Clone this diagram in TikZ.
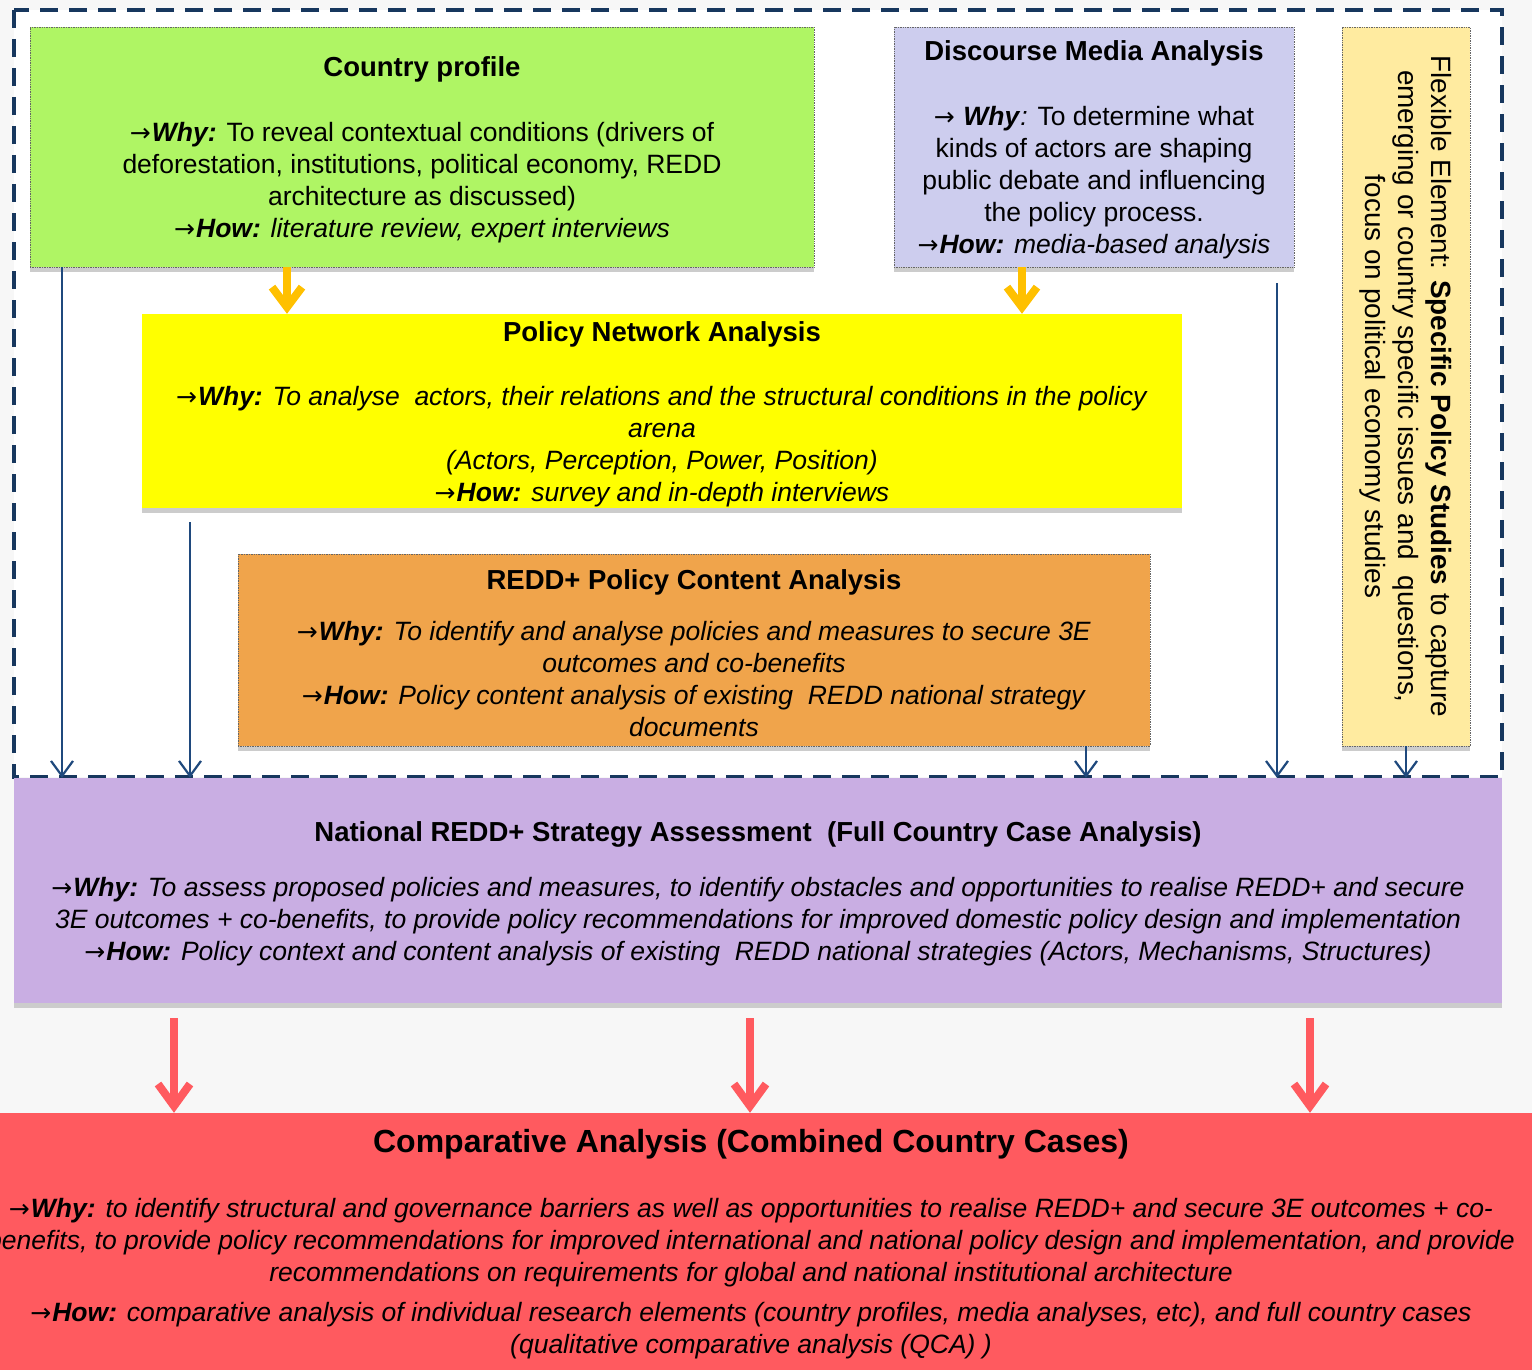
\documentclass[tikz,border=0pt]{standalone}
\usepackage{fontspec}
\setmainfont{Liberation Sans}
\newfontfamily\arrowfont{DejaVu Sans}
\usetikzlibrary{arrows.meta,positioning,shadows}

\definecolor{pagebg}{HTML}{F7F7F7}
\definecolor{framenavy}{HTML}{17375E}
\definecolor{legnavy}{HTML}{1F497D}
\definecolor{cpgreen}{HTML}{AFF564}
\definecolor{dmblue}{HTML}{CDCDEE}
\definecolor{flexcream}{HTML}{FFEBA0}
\definecolor{pnayellow}{HTML}{FFFF00}
\definecolor{pcorange}{HTML}{F0A44B}
\definecolor{nsalilac}{HTML}{C9AEE3}
\definecolor{carred}{HTML}{FF5A5F}
\definecolor{feedgold}{HTML}{FFC000}

\newcommand{\bi}[1]{\textbf{\textit{#1}}}
\newcommand{\ra}{\resizebox{21pt}{!}{\arrowfont\upshape\mdseries →}\kern1pt}
\newcommand{\ttl}[1]{{\fontsize{27.5}{32}\selectfont\rule{0pt}{25.5pt}\textbf{#1}}}

\tikzset{
  box/.style={align=center, inner sep=0pt, font=\fontsize{26.5}{32}\selectfont},
  outl/.style={draw=black!60, densely dotted, line width=0.7pt},
  shade/.style={general shadow={fill=black!20, shadow yshift=-5pt}},
  leg/.style={draw=legnavy, line width=2.2pt, -{Straight Barb[length=15pt,width=22pt]}},
  feed/.style={draw=feedgold, line width=8pt, -{Straight Barb[length=20pt,width=30pt]}},
  outflow/.style={draw=carred, line width=8pt, -{Straight Barb[length=22pt,width=32pt]}}
}

\begin{document}
\begin{tikzpicture}[x=1pt,y=-1pt]
\useasboundingbox (0,0) rectangle (1532,1370);
\fill[pagebg] (0,0) rectangle (1532,1370);
\fill[white] (14,10) rectangle (1502,777);
\draw[framenavy, line width=4pt, dash pattern=on 18pt off 11pt] (14,10) rectangle (1502,777);

% research elements
\node[box, outl, shade, fill=cpgreen, minimum width=784pt, minimum height=240pt] (cp) at (422,147) {%
  \ttl{Country profile}\\[33pt]
  \ra\bi{Why:} To reveal contextual conditions (drivers of\\
  deforestation, institutions, political economy, REDD\\
  architecture as discussed)\\
  \ra\bi{How:} \textit{literature review, expert interviews}};
\node[box, outl, shade, fill=dmblue, minimum width=400pt, minimum height=240pt] (dm) at (1094,147) {%
  \ttl{Discourse Media Analysis}\\[33pt]
  \ra\ \bi{Why}\textit{:} To determine what\\
  kinds of actors are shaping\\
  public debate and influencing\\
  the policy process.\\
  \ra\bi{How:} \textit{media-based analysis}};
\node[box, outl, shade, fill=flexcream, rotate=-90, minimum width=719pt, minimum height=128pt,
  font=\fontsize{27.9}{33}\selectfont] (flex) at (1406,386.5) {%
  Flexible Element: \textbf{Specific Policy Studies} to capture\\
  emerging or country specific issues and\ \ questions,\\
  focus on political economy studies};
\node[box, shade, fill=pnayellow, minimum width=1040pt, minimum height=194pt] (pna) at (662,411) {%
  \ttl{Policy Network Analysis}\\[32pt]
  \textit{\ra\textbf{Why:} To analyse\ \ actors, their relations and the structural conditions in the policy}\\
  \textit{arena}\\
  \textit{(Actors, Perception, Power, Position)}\\
  \textit{\ra\textbf{How:} survey and in-depth interviews}};
\node[box, outl, shade, fill=pcorange, minimum width=912pt, minimum height=192pt] (pca) at (694,650) {%
  \ttl{REDD+ Policy Content Analysis}\\[19pt]
  \textit{\ra\textbf{Why:} To identify and analyse policies and measures to secure 3E}\\
  \textit{outcomes and co-benefits}\\
  \textit{\ra\textbf{How:} Policy content analysis of existing\ \ REDD national strategy}\\
  \textit{documents}};

% synthesis
\node[box, shade, fill=nsalilac, minimum width=1488pt, minimum height=225pt] (nsa) at (758,890.5) {%
  \ttl{National REDD+ Strategy Assessment\ \ (Full Country Case Analysis)}\\[23pt]
  \textit{\ra\textbf{Why:} To assess proposed policies and measures, to identify obstacles and opportunities to realise REDD+ and secure}\\
  \textit{3E outcomes + co-benefits, to provide policy recommendations for improved domestic policy design and implementation}\\
  \textit{\ra\textbf{How:} Policy context and content analysis of existing\ \ REDD national strategies (Actors, Mechanisms, Structures)}};
\node[box, fill=carred, minimum width=1600pt, minimum height=262pt] (car) at (751,1244) {%
  {\fontsize{32}{36}\selectfont\textbf{Comparative Analysis (Combined Country Cases)}}\\[33pt]
  \textit{\ra\textbf{Why:} to identify structural and governance barriers as well as opportunities to realise REDD+ and secure 3E outcomes + co-}\\
  \textit{benefits, to provide policy recommendations for improved international and national policy design and implementation, and provide}\\
  \textit{recommendations on requirements for global and national institutional architecture}\\[8pt]
  \textit{\ra\textbf{How:} comparative analysis of individual research elements (country profiles, media analyses, etc), and full country cases}\\
  \textit{(qualitative comparative analysis (QCA) )}};

% connectors
\coordinate (pnaleg) at (190,522);
\coordinate (dmleg) at (1277,283);
\draw[feed] ([xshift=-135pt]cp.south) -- ([xshift=-375pt]pna.north);
\draw[feed] ([xshift=-72pt]dm.south) -- ([xshift=360pt]pna.north);
\draw[leg] ([xshift=-360pt]cp.south) -- ([xshift=-696pt]nsa.north);
\draw[leg] (pnaleg) -- (pnaleg |- nsa.north);
\draw[leg] ([xshift=392pt]pca.south) -- ([xshift=328pt]nsa.north);
\draw[leg] (dmleg) -- (dmleg |- nsa.north);
\draw[leg] (flex.east) -- (flex.east |- nsa.north);
\foreach \dx/\ex in {-584/-577, -8/-1, 552/559}
  \draw[outflow] ([xshift=\dx pt,yshift=-15pt]nsa.south) -- ([xshift=\ex pt]car.north);
\end{tikzpicture}
\end{document}
